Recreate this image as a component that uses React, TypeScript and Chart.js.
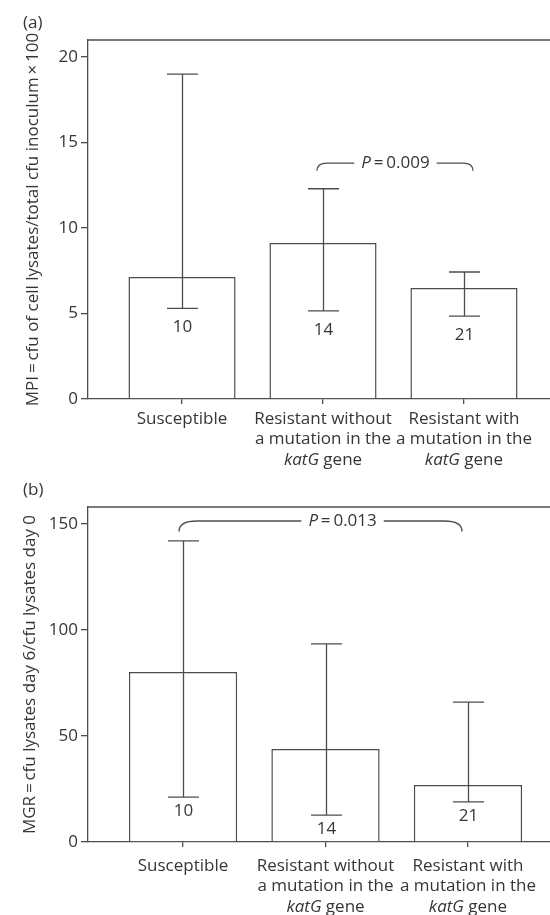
import React, { useEffect, useRef } from "react";
import { Chart, registerables } from "chart.js";

Chart.register(...registerables);

// ---------- data ----------
const categoryLines = [["Susceptible"], ["Resistant without", "a mutation in the"], ["Resistant with", "a mutation in the"]];
const categoryItalic = ["", "katG", "katG"];
const categoryTail = ["", " gene", " gene"];
const sampleSizes = ["10", "14", "21"];

const mpiMeans = [7.13, 9.12, 6.5];
const mpiLow = [5.3, 5.15, 4.85];
const mpiHigh = [19.0, 12.3, 7.43];
const mpiTicks = [0, 5, 10, 15, 20];
const mpiTitle = "MPI\u2009=\u2009cfu of cell lysates/total cfu inoculum\u2009×\u2009100";
const mpiP = "0.009";

const mgrMeans = [80.2, 43.9, 26.9];
const mgrLow = [21.2, 12.7, 18.9];
const mgrHigh = [142, 93.4, 66];
const mgrTicks = [0, 50, 100, 150];
const mgrTitle = "MGR\u2009=\u2009cfu lysates day 6/cfu lysates day 0";
const mgrP = "0.013";

const LINE = "#4d4d4d";
const TEXT = "#363636";
const FONT = "'Open Sans', 'Noto Sans', sans-serif";
const FS = 17;

type Panel = {
  letter: string;
  means: number[];
  low: number[];
  high: number[];
  ticks: number[];
  yMax: number;
  title: string;
  titlePad: number;
  pText: string;
  bracket: { from: number; to: number; textAt: number; y: number; yEnd: number; rx: number };
  width: number;
  height: number;
  top: number;
  xHeight: number;
  padRight: number;
  nOffset: number;
  labelOffset: number;
};

const panels: Panel[] = [
  {
    letter: "(a)", means: mpiMeans, low: mpiLow, high: mpiHigh, ticks: mpiTicks, yMax: 21,
    title: mpiTitle, titlePad: 23, pText: mpiP,
    bracket: { from: 0.957, to: 2.064, textAt: 1.514, y: 13.8, yEnd: 13.35, rx: 10 },
    width: 565, height: 470, top: 40, xHeight: 71, padRight: 7, nOffset: 19, labelOffset: 20,
  },
  {
    letter: "(b)", means: mgrMeans, low: mgrLow, high: mgrHigh, ticks: mgrTicks, yMax: 158,
    title: mgrTitle, titlePad: 20, pText: mgrP,
    bracket: { from: -0.028, to: 1.958, textAt: 1.12, y: 151.4, yEnd: 146.5, rx: 18 },
    width: 565, height: 445, top: 37, xHeight: 73, padRight: 2, nOffset: 14, labelOffset: 24,
  },
];

function makePlugin(p: Panel) {
  return {
    id: "panelDecor",
    afterDatasetsDraw(chart: any) {
      const { ctx, chartArea: a, scales } = chart;
      const x = scales.x;
      const y = scales.y;
      ctx.save();
      ctx.strokeStyle = LINE;
      ctx.lineWidth = 1.3;
      // frame top / right
      ctx.beginPath();
      ctx.moveTo(a.left, a.top);
      ctx.lineTo(a.right, a.top);
      ctx.lineTo(a.right, a.bottom);
      ctx.stroke();

      const italicFont = `italic ${FS}px ${FONT}`;
      const normalFont = `${FS}px ${FONT}`;

      // error bars + n
      ctx.fillStyle = TEXT;
      ctx.font = normalFont;
      ctx.textAlign = "center";
      ctx.textBaseline = "middle";
      p.means.forEach((_, i) => {
        const cx = Math.round(x.getPixelForValue(i)) + 0.5;
        const yh = y.getPixelForValue(p.high[i]);
        const yl = y.getPixelForValue(p.low[i]);
        ctx.beginPath();
        ctx.moveTo(cx, yh);
        ctx.lineTo(cx, yl);
        ctx.moveTo(cx - 15.5, yh);
        ctx.lineTo(cx + 15.5, yh);
        ctx.moveTo(cx - 15.5, yl);
        ctx.lineTo(cx + 15.5, yl);
        ctx.stroke();
        ctx.fillText(sampleSizes[i], cx, yl + p.nOffset);
      });

      // bracket with P value
      const b = p.bracket;
      const x1 = x.getPixelForValue(b.from);
      const x2 = x.getPixelForValue(b.to);
      const tx = x.getPixelForValue(b.textAt);
      const yt = y.getPixelForValue(b.y);
      const ye = y.getPixelForValue(b.yEnd);
      ctx.font = italicFont;
      const wP = ctx.measureText("P").width;
      ctx.font = normalFont;
      const rest = "\u2009=\u2009" + p.pText;
      const wR = ctx.measureText(rest).width;
      const w = wP + wR;
      const gap = 7;
      ctx.beginPath();
      ctx.moveTo(x1, ye);
      ctx.quadraticCurveTo(x1, yt, x1 + b.rx, yt);
      ctx.lineTo(tx - w / 2 - gap, yt);
      ctx.moveTo(tx + w / 2 + gap, yt);
      ctx.lineTo(x2 - b.rx, yt);
      ctx.quadraticCurveTo(x2, yt, x2, ye);
      ctx.stroke();
      ctx.textAlign = "left";
      ctx.font = italicFont;
      ctx.fillText("P", tx - w / 2, yt);
      ctx.font = normalFont;
      ctx.fillText(rest, tx - w / 2 + wP, yt);

      // category labels
      const lh = 20.5;
      categoryLines.forEach((lines, i) => {
        const cx = x.getPixelForValue(i);
        ctx.font = normalFont;
        ctx.textAlign = "center";
        lines.forEach((t, k) => {
          ctx.fillText(t, cx, a.bottom + p.labelOffset + k * lh);
        });
        if (categoryItalic[i]) {
          const yy = a.bottom + p.labelOffset + lines.length * lh;
          ctx.font = italicFont;
          const wi = ctx.measureText(categoryItalic[i]).width;
          ctx.font = normalFont;
          const wt = ctx.measureText(categoryTail[i]).width;
          const sx = cx - (wi + wt) / 2;
          ctx.textAlign = "left";
          ctx.font = italicFont;
          ctx.fillText(categoryItalic[i], sx, yy);
          ctx.font = normalFont;
          ctx.fillText(categoryTail[i], sx + wi, yy);
        }
      });

      // panel letter
      ctx.font = normalFont;
      ctx.textAlign = "left";
      ctx.fillText(p.letter, 23, p.top - 17);
      ctx.restore();
    },
  };
}

function PanelChart({ p, offsetTop }: { p: Panel; offsetTop: number }) {
  const ref = useRef<HTMLCanvasElement | null>(null);
  useEffect(() => {
    const canvas = ref.current!;
    const chart = new Chart(canvas, {
      type: "bar",
      data: {
        datasets: [
          {
            data: p.means.map((v, i) => ({ x: i, y: v })),
            backgroundColor: "#ffffff",
            borderColor: LINE,
            borderWidth: 1.5,
            barPercentage: 0.76,
            categoryPercentage: 1,
          },
        ],
      },
      options: {
        responsive: false,
        animation: false,
        devicePixelRatio: 1,
        layout: { padding: { top: p.top, right: p.padRight, left: 0, bottom: 0 } },
        plugins: { legend: { display: false }, tooltip: { enabled: false }, title: { display: false } },
        scales: {
          x: {
            type: "linear",
            min: -0.667,
            max: 2.667,
            offset: false,
            grid: { display: true, offset: false, drawOnChartArea: false, drawTicks: true, tickLength: 5, color: LINE, lineWidth: 1.3 },
            border: { display: true, color: LINE, width: 1.3 },
            ticks: { display: false },
            afterBuildTicks: (s: any) => {
              s.ticks = categoryLines.map((_, i) => ({ value: i }));
            },
            afterFit: (s: any) => {
              s.height = p.xHeight;
            },
          },
          y: {
            type: "linear",
            min: 0,
            max: p.yMax,
            grid: { display: true, drawOnChartArea: false, drawTicks: true, tickLength: 7, color: LINE, lineWidth: 1.3 },
            border: { display: true, color: LINE, width: 1.3 },
            ticks: { color: TEXT, font: { family: FONT, size: FS }, padding: 3 },
            afterBuildTicks: (s: any) => {
              s.ticks = p.ticks.map((v) => ({ value: v }));
            },
            afterFit: (s: any) => {
              s.width = 88;
            },
            title: {
              display: true,
              text: p.title,
              color: TEXT,
              font: { family: FONT, size: 17 },
              padding: { top: p.titlePad, bottom: 0 },
            },
          },
        },
      },
      plugins: [makePlugin(p)],
    } as any);
    return () => chart.destroy();
  }, [p]);
  return (
    <canvas
      ref={ref}
      width={p.width}
      height={p.height}
      style={{ position: "absolute", left: 0, top: offsetTop, width: p.width, height: p.height }}
    />
  );
}

export default function App() {
  return (
    <div style={{ position: "fixed", left: 0, top: 0, width: 550, height: 915, overflow: "hidden", background: "#ffffff" }}>
      <PanelChart p={panels[0]} offsetTop={0} />
      <PanelChart p={panels[1]} offsetTop={470} />
    </div>
  );
}
